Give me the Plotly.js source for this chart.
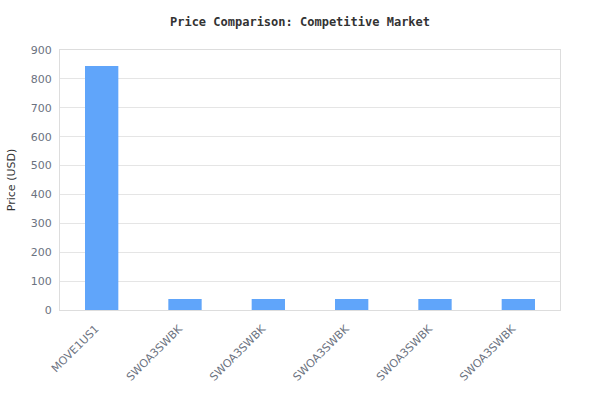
<!DOCTYPE html>
<html>
<head>
<meta charset="utf-8">
<script src="https://cdn.plot.ly/plotly-3.0.1.min.js"></script>
<style>
  html, body { margin: 0; padding: 0; background: #fff; }
  #chart { width: 600px; height: 420px; }
</style>
</head>
<body>
<div id="chart"></div>
<script>
// product codes (the same code shows up several times, so plot by position)
const productCodes = [
  "MOVE1US1",
  "SWOA3SWBK",
  "SWOA3SWBK",
  "SWOA3SWBK",
  "SWOA3SWBK",
  "SWOA3SWBK",
];
const prices = [845, 38, 38, 38, 38, 38];
const yTicks = [0, 100, 200, 300, 400, 500, 600, 700, 800, 900];

const positions = productCodes.map((_, i) => i);

const trace = {
  type: "bar",
  x: positions,
  y: prices,
  text: productCodes,
  hoverinfo: "text+y",
  textposition: "none",
  marker: { color: "#60a5fa" },
};

const layout = {
  width: 600,
  height: 420,
  title: {
    text: "<b>Price Comparison: Competitive Market</b>",
    font: { family: "DejaVu Sans Mono, monospace", size: 12, color: "#333" },
    x: 0.5,
    xanchor: "center",
    y: 0.947,
    yanchor: "middle",
  },
  margin: { l: 60, r: 40, t: 50, b: 110 },
  bargap: 0.6,
  showlegend: false,
  paper_bgcolor: "#fff",
  plot_bgcolor: "#fff",
  font: { family: "DejaVu Sans, sans-serif", size: 11, color: "#6b7280" },
  xaxis: {
    tickmode: "array",
    tickvals: positions,
    ticktext: productCodes,
    tickangle: -45,
    range: [-0.5, productCodes.length - 0.5],
    showgrid: false,
    showline: true,
    linecolor: "#ddd",
    mirror: true,
    ticks: "",
    ticklabelstandoff: 7,
    ticklabelshift: -6,
    tickfont: { size: 11, color: "#6b7280" },
  },
  yaxis: {
    title: {
      text: "Price (USD)",
      font: { size: 11, color: "#333" },
      standoff: 12,
    },
    range: [0, 900],
    tickmode: "array",
    tickvals: yTicks,
    gridcolor: "#e5e5e5",
    showline: true,
    linecolor: "#ddd",
    mirror: true,
    zeroline: false,
    ticks: "outside",
    ticklen: 5,
    tickcolor: "rgba(0,0,0,0)",
    tickfont: { size: 11, color: "#6b7280" },
  },
};

Plotly.newPlot("chart", [trace], layout, { staticPlot: true, displayModeBar: false });
</script>
</body>
</html>
